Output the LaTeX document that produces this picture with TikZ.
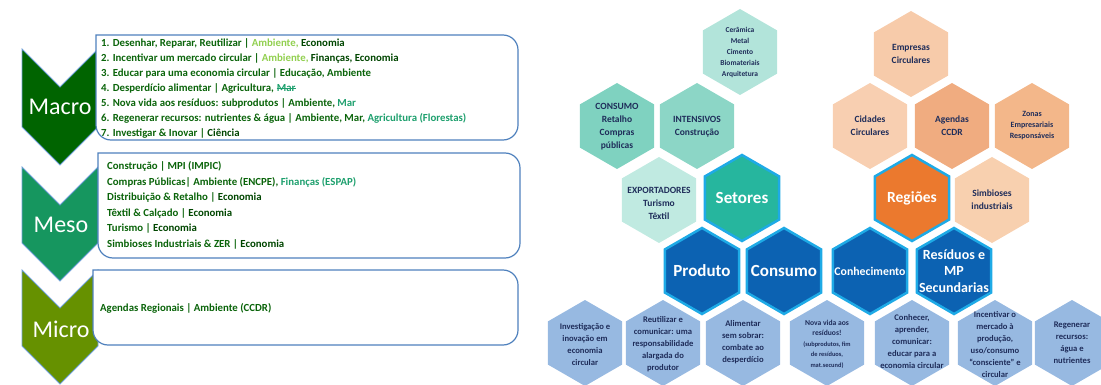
\documentclass[tikz,border=0pt]{standalone}
\usepackage{fontspec}
\setmainfont{Carlito}

\definecolor{macrocol}{RGB}{0,100,0}
\definecolor{mesocol}{RGB}{22,150,95}
\definecolor{microcol}{RGB}{102,145,0}
\definecolor{chevline}{RGB}{111,160,215}
\definecolor{boxline}{RGB}{79,129,189}
\definecolor{txtgreen}{RGB}{10,100,10}
\definecolor{ecogreen}{RGB}{0,70,0}
\definecolor{lightgreen}{RGB}{146,208,80}
\definecolor{tealtxt}{RGB}{30,160,110}
\definecolor{tealpale}{RGB}{178,228,218}
\definecolor{tealmid}{RGB}{127,210,192}
\definecolor{tealint}{RGB}{140,214,198}
\definecolor{teallight}{RGB}{192,234,225}
\definecolor{tealdark}{RGB}{38,182,158}
\definecolor{peachA}{RGB}{247,203,170}
\definecolor{peachB}{RGB}{248,207,177}
\definecolor{peachC}{RGB}{240,172,128}
\definecolor{peachD}{RGB}{243,183,138}
\definecolor{peachE}{RGB}{248,208,175}
\definecolor{orangedark}{RGB}{235,121,46}
\definecolor{bluedark}{RGB}{12,98,178}
\definecolor{bluepale}{RGB}{151,185,225}
\definecolor{cyanline}{RGB}{30,170,230}
\definecolor{navytxt}{RGB}{31,45,90}

% hexagon with pointy top: x, y, radius, style
\newcommand{\hexcell}[4]{%
  \path[#4] (#1,#2) +(90:#3) -- +(150:#3) -- +(210:#3) -- +(270:#3) -- +(330:#3) -- +(30:#3) -- cycle;}

\begin{document}
\begin{tikzpicture}[x=1pt,y=-1pt,line join=miter,
  chev/.style={draw=chevline,line width=0.8pt},
  chevtxt/.style={text=white,inner sep=0pt,font=\fontsize{24}{24}\selectfont},
  lvlbox/.style={draw=boxline,line width=1.2pt,fill=white},
  ln/.style={anchor=base west,inner sep=0pt,text=txtgreen,font=\fontsize{10.8}{12}\selectfont\bfseries},
  hexsmall/.style={align=center,inner sep=0pt,text=navytxt,font=\fontsize{9.5}{13}\selectfont\bfseries},
  hexlow/.style={align=center,inner sep=0pt,text=navytxt,font=\fontsize{8.6}{12}\selectfont\bfseries},
  hexbig/.style={align=center,inner sep=0pt,text=white,font=\fontsize{17}{19}\selectfont\bfseries},
  keyhex/.style={fill=#1,draw=cyanline,line width=2.5pt}]
\useasboundingbox (0,0) rectangle (1101,385);
%% levels
\path[chev,fill=macrocol] (22,49) -- (60,87) -- (98,49) -- (98,127) -- (60,165) -- (22,127) -- cycle;
\path[chev,fill=mesocol] (22,167) -- (60,205) -- (98,167) -- (98,243) -- (60,281) -- (22,243) -- cycle;
\path[chev,fill=microcol] (22,270) -- (60,308) -- (98,270) -- (98,346) -- (60,384) -- (22,346) -- cycle;
\node[chevtxt] (macro) at (60,107) {Macro};
\node[chevtxt] (meso) at (61,225) {Meso};
\node[chevtxt] (micro) at (61,329) {Micro};
\path[lvlbox] (96,35) [rounded corners=15pt] -- (518,35) -- (518,140) -- (96,140) [sharp corners] -- cycle;
\path[lvlbox] (98,153) [rounded corners=15pt] -- (520,153) -- (520,258) -- (98,258) [sharp corners] -- cycle;
\path[lvlbox] (93,270) [rounded corners=15pt] -- (518,270) -- (518,345) -- (93,345) [sharp corners] -- cycle;
%% macro lines
\node[ln] (macro_1) at (101,47) {1. Desenhar, Reparar, Reutilizar | \textcolor{lightgreen}{Ambiente,} \textcolor{ecogreen}{Economia}};
\node[ln] (macro_2) at (101,61.9) {2. Incentivar um mercado circular | \textcolor{lightgreen}{Ambiente,} \textcolor{ecogreen}{Finanças, Economia}};
\node[ln] (macro_3) at (101,76.8) {3. Educar para uma economia circular | Educação, Ambiente};
\node[ln] (macro_4) at (101,91.7) {4. Desperdício alimentar | Agricultura,};
\node[ln,text=tealtxt,xshift=2.6pt] (mar_cut) at (macro_4.base east) {Mar};
\draw[tealtxt,line width=0.8pt] ([yshift=3.2pt]mar_cut.base west) -- ([yshift=3.2pt]mar_cut.base east);
\node[ln] (macro_5) at (101,106.6) {5. Nova vida aos resíduos: subprodutos | Ambiente, \textcolor{tealtxt}{Mar}};
\node[ln] (macro_6) at (101,121.5) {6. Regenerar recursos: nutrientes \& água | Ambiente, Mar, \textcolor{tealtxt}{Agricultura (Florestas)}};
\node[ln] (macro_7) at (101,136.4) {7. Investigar \& Inovar | \textcolor{ecogreen}{Ciência}};
%% meso lines
\node[ln] (meso_1) at (107,170) {Construção | MPI (IMPIC)};
\node[ln] (meso_2) at (107,185.4) {Compras Públicas| Ambiente (ENCPE), \textcolor{tealtxt}{Finanças (ESPAP)}};
\node[ln] (meso_3) at (107,200.8) {Distribuição \& Retalho | \textcolor{ecogreen}{Economia}};
\node[ln] (meso_4) at (107,216.2) {Têxtil \& Calçado | \textcolor{ecogreen}{Economia}};
\node[ln] (meso_5) at (107,231.6) {Turismo | \textcolor{ecogreen}{Economia}};
\node[ln] (meso_6) at (107,247) {Simbioses Industriais \& ZER | \textcolor{ecogreen}{Economia}};
%% micro line
\node[ln] (micro_1) at (100,311) {Agendas Regionais | Ambiente (CCDR)};
%% setores
\hexcell{740}{52}{43}{fill=tealpale}
\hexcell{617}{126}{43}{fill=tealmid}
\hexcell{697}{126}{43}{fill=tealint}
\hexcell{659}{200}{43}{fill=teallight}
\node[hexsmall,font=\fontsize{7.5}{11}\selectfont\bfseries] (ceramica) at (740,52) {Cerâmica\\Metal\\Cimento\\Biomateriais\\Arquitetura};
\node[hexsmall] (consumo_s) at (617,127) {CONSUMO\\Retalho\\Compras\\públicas};
\node[hexsmall] (intensivos) at (697,127) {INTENSIVOS\\Construção};
\node[hexsmall] (exportadores) at (659,203) {EXPORTADORES\\Turismo\\Têxtil};
%% regioes
\hexcell{911}{54}{43}{fill=peachA}
\hexcell{870}{126}{43}{fill=peachB}
\hexcell{952}{126}{43}{fill=peachC}
\hexcell{1032}{126}{43}{fill=peachD}
\hexcell{992}{200}{43}{fill=peachE}
\node[hexsmall] (empresas) at (911,54) {Empresas\\Circulares};
\node[hexsmall] (cidades) at (870,126) {Cidades\\Circulares};
\node[hexsmall] (agendas) at (952,126) {Agendas\\CCDR};
\node[hexsmall,font=\fontsize{8}{11}\selectfont\bfseries] (zonas) at (1032,126) {Zonas\\Empresariais\\Responsáveis};
\node[hexsmall] (simbioses) at (992,200) {Simbioses\\industriais};
%% base row
\hexcell{585}{343}{43}{fill=bluepale}
\hexcell{663}{343}{43}{fill=bluepale}
\hexcell{743}{343}{43}{fill=bluepale}
\hexcell{827}{343}{43}{fill=bluepale}
\hexcell{912}{343}{43}{fill=bluepale}
\hexcell{995}{343}{43}{fill=bluepale}
\hexcell{1072}{343}{43}{fill=bluepale}
\node[hexlow] (investigacao) at (585,345) {Investigação e\\inovação em\\economia\\circular};
\node[hexlow] (reutilizar) at (663,344) {Reutilizar e\\comunicar: uma\\responsabilidade\\alargada do\\produtor};
\node[hexlow] (alimentar) at (743,342) {Alimentar\\sem sobrar:\\combate ao\\desperdício};
\node[hexlow,font=\fontsize{7.6}{10.5}\selectfont\bfseries] (novavida) at (827,344) {Nova vida aos\\resíduos!\\{\fontsize{6.4}{10.5}\selectfont (subprodutos, fim}\\{\fontsize{6.4}{10.5}\selectfont de resíduos,}\\{\fontsize{6.4}{10.5}\selectfont mat.secund)}};
\node[hexlow] (conhecer) at (912,342) {Conhecer,\\aprender,\\comunicar:\\educar para a\\economia circular};
\node[hexlow] (incentivar) at (995,345) {Incentivar o\\mercado à\\produção,\\uso/consumo\\“consciente” e\\circular};
\node[hexlow] (regenerar) at (1072,343) {Regenerar\\recursos:\\água e\\nutrientes};
%% key hexagons
\hexcell{742}{198}{43}{keyhex=tealdark}
\hexcell{912}{198}{43}{keyhex=orangedark}
\hexcell{702}{271}{43}{keyhex=bluedark}
\hexcell{784}{271}{43}{keyhex=bluedark}
\hexcell{870}{271}{43}{keyhex=bluedark}
\hexcell{954}{271}{43}{keyhex=bluedark}
\node[hexbig] (setores) at (742,198) {Setores};
\node[hexbig,font=\fontsize{15.5}{18}\selectfont\bfseries] (regioes) at (912,198) {Regiões};
\node[hexbig] (produto) at (702,271) {Produto};
\node[hexbig] (consumo) at (784,271) {Consumo};
\node[hexbig,font=\fontsize{11.8}{14}\selectfont\bfseries] (conhecimento) at (870,271) {Conhecimento};
\node[hexbig,font=\fontsize{14}{16.5}\selectfont\bfseries] (residuos) at (954,271) {Resíduos e\\MP\\Secundarias};
%
\end{tikzpicture}
\end{document}
